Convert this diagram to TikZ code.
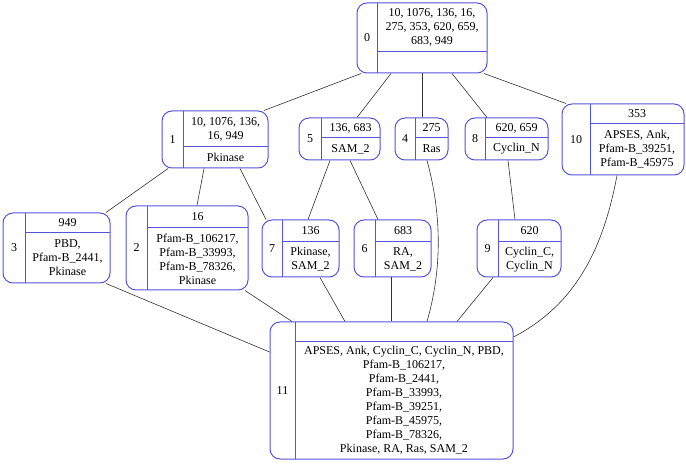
\documentclass[tikz,border=0pt]{standalone}
\usepackage{fontspec}
\setmainfont{Liberation Serif}
\usepackage{tikz}
\usetikzlibrary{calc,fit}

\definecolor{recblue}{RGB}{85,85,220}

\tikzset{
  rec/.style={draw=recblue, line width=1pt, rounded corners=10pt, inner sep=0pt},
  recline/.style={draw=recblue, line width=1pt},
  lbl/.style={font=\fontsize{12}{14}\selectfont, align=center, inner sep=0pt},
  edge/.style={draw=black!80, line width=0.6pt}
}

% record node: name, top left, bottom right, divider point, id, upper text, lower text
\newcommand{\recnode}[7]{%
  \coordinate (#1tl) at (#2);
  \coordinate (#1br) at (#3);
  \coordinate (#1d) at (#4);
  \node[rec, fit=(#1tl)(#1br)] (#1) {};
  \draw[recline] (#1d |- #1tl) -- (#1d |- #1br);
  \draw[recline] (#1d) -- (#1d -| #1br);
  \node[lbl] at ($(#1tl)!.5!(#1d |- #1br)$) {#5};
  \node[lbl] at ($(#1d |- #1tl)!.5!(#1d -| #1br)$) {#6};
  \node[lbl] at ($(#1d)!.5!(#1br)$) {#7};
}

\begin{document}
\begin{tikzpicture}[x=1pt, y=-1pt]

\fill[white] (0,0) rectangle (686,465);
\useasboundingbox (0,0) rectangle (686,465);

\recnode{n0}{357,3}{487,73}{377,52}{0}{10, 1076, 136, 16,\\275, 353, 620, 659,\\683, 949}{}

\recnode{n1}{162,111}{268,168}{183,147}{1}{10, 1076, 136,\\16, 949}{Pkinase}
\recnode{n5}{299,118}{380,160}{321,138}{5}{136, 683}{SAM\_2}
\recnode{n4}{395,118}{448,160}{415,138}{4}{275}{Ras}
\recnode{n8}{465,118}{548,160}{485,138}{8}{620, 659}{Cyclin\_N}
\recnode{n10}{562,104}{684,175}{590,124}{10}{353}{APSES, Ank,\\Pfam-B\_39251,\\Pfam-B\_45975}

\recnode{n3}{3,213}{110,283}{25,233}{3}{949}{PBD,\\Pfam-B\_2441,\\Pkinase}
\recnode{n2}{126,206}{248,290}{147,228}{2}{16}{Pfam-B\_106217,\\Pfam-B\_33993,\\Pfam-B\_78326,\\Pkinase}
\recnode{n7}{262,220}{339,277}{282,242}{7}{136}{Pkinase,\\SAM\_2}
\recnode{n6}{354,220}{431,277}{375,242}{6}{683}{RA,\\SAM\_2}
\recnode{n9}{477,220}{561,277}{498,242}{9}{620}{Cyclin\_C,\\Cyclin\_N}

\recnode{n11}{270,322}{513,459}{295,342}{11}{}{APSES, Ank, Cyclin\_C, Cyclin\_N, PBD,\\Pfam-B\_106217,\\Pfam-B\_2441,\\Pfam-B\_33993,\\Pfam-B\_39251,\\Pfam-B\_45975,\\Pfam-B\_78326,\\Pkinase, RA, Ras, SAM\_2}

% edges from 0
\draw[edge] (361,0 |- n0.south) -- (264,0 |- n1.north);
\draw[edge] (391,0 |- n0.south) -- (357,0 |- n5.north);
\draw[edge] (422,0 |- n0.south) -- (422,0 |- n4.north);
\draw[edge] (452,0 |- n0.south) -- (487,0 |- n8.north);
\draw[edge] (484,0 |- n0.south) -- (566,0 |- n10.north);

% second level
\draw[edge] (168,0 |- n1.south) -- (106,0 |- n3.north);
\draw[edge] (204,0 |- n1.south) -- (197,0 |- n2.north);
\draw[edge] (240,0 |- n1.south) -- (266,0 |- n7.north);
\draw[edge] (330,0 |- n5.south) -- (308,0 |- n7.north);
\draw[edge] (350,0 |- n5.south) -- (378,0 |- n6.north);
\draw[edge] (508,0 |- n8.south) -- (515,0 |- n9.north);

% into 11
\draw[edge] (106,0 |- n3.south) -- (n11.west |- 0,352);
\draw[edge] (245,0 |- n2.south) -- (292,0 |- n11.north);
\draw[edge] (320,0 |- n7.south) -- (345,0 |- n11.north);
\draw[edge] (391,0 |- n6.south) -- (391,0 |- n11.north);
\draw[edge] (427,0 |- n4.south) .. controls (442,215) and (442,270) .. (427,0 |- n11.north);
\draw[edge] (493,0 |- n9.south) -- (457,0 |- n11.north);
\draw[edge] (617,0 |- n10.south) .. controls (603,250) and (575,305) .. (n11.east |- 0,337);

\end{tikzpicture}
\end{document}
